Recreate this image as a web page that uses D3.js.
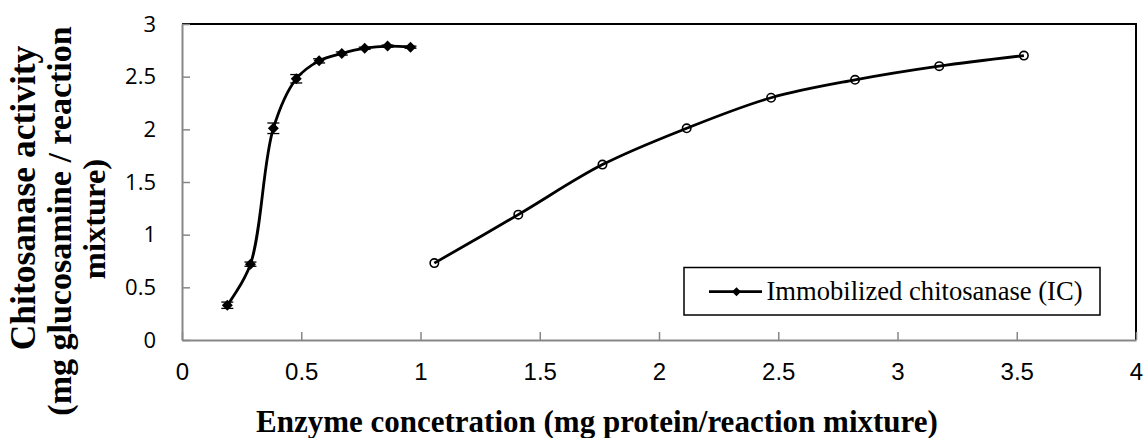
<!DOCTYPE html>
<html>
<head>
<meta charset="utf-8">
<script src="https://cdn.jsdelivr.net/npm/d3@7/dist/d3.min.js"></script>
<style>
  html, body { margin: 0; padding: 0; background: #fff; }
  svg { display: block; }
</style>
</head>
<body>
<script>
// ---- data ----
const freeX   = [0.19, 0.287, 0.383, 0.479, 0.575, 0.670, 0.766, 0.862, 0.958];
const freeY   = [0.33, 0.72, 2.01, 2.48, 2.65, 2.72, 2.77, 2.79, 2.78];
const freeErr = [0.03, 0.02, 0.05, 0.04, 0.02, 0.015, 0.01, 0.01, 0.01];
const icX     = [1.058, 1.41, 1.763, 2.116, 2.47, 2.822, 3.175, 3.53];
const icY     = [0.73, 1.19, 1.665, 2.01, 2.30, 2.47, 2.60, 2.70];
const xTicks  = [0, 0.5, 1, 1.5, 2, 2.5, 3, 3.5, 4];
const yTicks  = [0, 0.5, 1, 1.5, 2, 2.5, 3];
const legendLabel = "Immobilized chitosanase (IC)";
const xTitle = "Enzyme concetration (mg protein/reaction mixture)";
const yTitleLines = ["Chitosanase activity", "(mg glucosamine / reaction", "mixture)"];

const W = 1146, H = 438;
const L = 182, R = 1136, T = 24, B = 340;

const svg = d3.select("body").append("svg").attr("width", W).attr("height", H);

const x = d3.scaleLinear().domain([0, 4]).range([L, R]);
const y = d3.scaleLinear().domain([0, 3]).range([B, T]);

// plot border (top & right black)
svg.append("path")
  .attr("d", `M${L},${T}H${R}V${B}`)
  .attr("fill", "none").attr("stroke", "#000").attr("stroke-width", 2);

const axisColor = "#878787";

const gx = svg.append("g").attr("transform", `translate(0,${B})`)
  .call(d3.axisBottom(x).tickValues(xTicks).tickFormat(d3.format("~g"))
    .tickSizeInner(-8).tickSizeOuter(0).tickPadding(23));
gx.select(".domain").attr("stroke", axisColor).attr("stroke-width", 2);
gx.selectAll(".tick line").attr("stroke", axisColor).attr("stroke-width", 1.5);
gx.selectAll(".tick text").attr("font-family", "'Liberation Sans', Arial, sans-serif")
  .attr("font-size", 24).attr("fill", "#000");

const gy = svg.append("g").attr("transform", `translate(${L},0)`)
  .call(d3.axisLeft(y).tickValues(yTicks).tickFormat(d3.format("~g"))
    .tickSizeInner(-8).tickSizeOuter(0).tickPadding(26));
gy.select(".domain").attr("stroke", axisColor).attr("stroke-width", 2);
gy.selectAll(".tick line").attr("stroke", axisColor).attr("stroke-width", 1.5);
gy.selectAll(".tick text").attr("font-family", "'Open Sans', sans-serif")
  .attr("font-size", 22).attr("fill", "#000");

// lines
const line = d3.line().x(d => x(d[0])).y(d => y(d[1])).curve(d3.curveCatmullRom.alpha(0.5));
const freeData = freeX.map((v, i) => [v, freeY[i], freeErr[i]]);
const icData = icX.map((v, i) => [v, icY[i]]);

svg.append("path").datum(freeData).attr("d", line)
  .attr("fill", "none").attr("stroke", "#000").attr("stroke-width", 2.8);
svg.append("path").datum(icData).attr("d", line)
  .attr("fill", "none").attr("stroke", "#000").attr("stroke-width", 2.8);

// error bars
const eb = svg.append("g").attr("stroke", "#000").attr("stroke-width", 1.3);
freeData.forEach(d => {
  const cx = x(d[0]), y1 = y(d[1] + d[2]), y2 = y(d[1] - d[2]);
  eb.append("line").attr("x1", cx).attr("x2", cx).attr("y1", y1).attr("y2", y2);
  eb.append("line").attr("x1", cx - 6).attr("x2", cx + 6).attr("y1", y1).attr("y2", y1);
  eb.append("line").attr("x1", cx - 6).attr("x2", cx + 6).attr("y1", y2).attr("y2", y2);
});

// diamond markers
const diamond = s => `M0,${-s}L${s},0L0,${s}L${-s},0Z`;
svg.append("g").selectAll("path").data(freeData).join("path")
  .attr("transform", d => `translate(${x(d[0])},${y(d[1])})`)
  .attr("d", diamond(5.5)).attr("fill", "#000");

// circle markers
svg.append("g").selectAll("circle").data(icData).join("circle")
  .attr("cx", d => x(d[0])).attr("cy", d => y(d[1])).attr("r", 4.2)
  .attr("fill", "none").attr("stroke", "#000").attr("stroke-width", 1.6);

// legend
const lg = svg.append("g");
lg.append("rect").attr("x", 684).attr("y", 267.5).attr("width", 416).attr("height", 47.5)
  .attr("fill", "#fff").attr("stroke", "#000").attr("stroke-width", 1.5);
lg.append("line").attr("x1", 709).attr("x2", 762).attr("y1", 291.7).attr("y2", 291.7)
  .attr("stroke", "#000").attr("stroke-width", 2.8);
lg.append("path").attr("transform", "translate(736.5,291.7)").attr("d", diamond(4.5)).attr("fill", "#000");
lg.append("text").attr("x", 766.5).attr("y", 300)
  .attr("font-family", "'Liberation Serif', 'Times New Roman', serif").attr("font-size", 26.6)
  .text(legendLabel);

// axis titles
svg.append("text").attr("x", 256).attr("y", 432)
  .attr("font-family", "'Liberation Serif', 'Times New Roman', serif").attr("font-weight", "bold")
  .attr("font-size", 31).text(xTitle);

const yPos = [[35, 198, 35.5], [71, 221, 34], [105, 219, 32.5]];
yTitleLines.forEach((t, i) => {
  svg.append("text").attr("transform", `translate(${yPos[i][0]},${yPos[i][1]}) rotate(-90)`)
    .attr("text-anchor", "middle")
    .attr("font-family", "'Liberation Serif', 'Times New Roman', serif").attr("font-weight", "bold")
    .attr("font-size", yPos[i][2]).text(t);
});
</script>
</body>
</html>
